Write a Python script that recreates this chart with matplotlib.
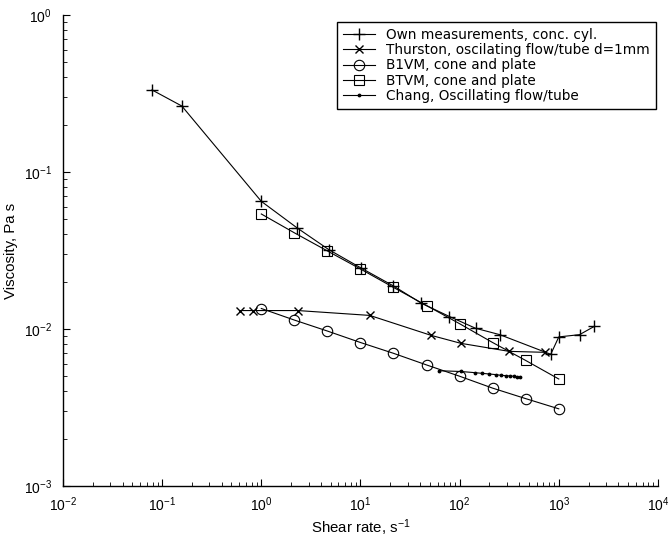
import numpy as np
import matplotlib
matplotlib.use("Agg")
import matplotlib.pyplot as plt
from matplotlib.ticker import LogLocator, NullFormatter

plt.rcParams['font.family'] = ['Liberation Sans', 'DejaVu Sans']
plt.rcParams['mathtext.default'] = 'regular'

# Own measurements, concentric cylinders
own_x = [0.079, 0.158, 1.0, 2.3, 4.8, 10.2, 21.5, 41, 79, 145, 254, 830, 1000, 1620, 2290]
own_y = [0.333, 0.263, 0.065, 0.044, 0.032, 0.0244, 0.0188, 0.0146, 0.012, 0.0101, 0.0092,
         0.0069, 0.0089, 0.0092, 0.0104]

# Thurston, oscillating flow in tube
thu_x = [0.61, 0.82, 2.34, 12.4, 51.7, 103, 316, 725]
thu_y = [0.0131, 0.0131, 0.0131, 0.0122, 0.0091, 0.0081, 0.0072, 0.0071]

# B1VM, cone and plate
b1_x = [1.0, 2.15, 4.64, 10, 21.5, 46.4, 100, 215, 464, 1000]
b1_y = [0.0135, 0.0114, 0.0097, 0.0082, 0.0070, 0.0059, 0.0050, 0.0042, 0.0036, 0.0031]

# BTVM, cone and plate
bt_x = [1.0, 2.15, 4.64, 10, 21.5, 46.4, 100, 215, 464, 1000]
bt_y = [0.054, 0.041, 0.0314, 0.0241, 0.0184, 0.0141, 0.0108, 0.0082, 0.0063, 0.0048]

# Chang, oscillating flow in tube
ch_x = [62, 103, 142, 167, 197, 232, 260, 292, 321, 352, 377, 405]
ch_y = [0.00542, 0.00536, 0.00527, 0.00522, 0.00517, 0.00512, 0.00507, 0.00504,
        0.00502, 0.00500, 0.00497, 0.00492]

fig = plt.figure(figsize=(6.7, 5.38), dpi=100)
ax = fig.add_axes([0.094, 0.0967, 0.888, 0.8755])

lw = 0.8
ax.plot(own_x, own_y, color='k', lw=lw, marker='+', ms=8, mew=1.0,
        label='Own measurements, conc. cyl.')
ax.plot(thu_x, thu_y, color='k', lw=lw, marker='x', ms=5.5, mew=1.0,
        label='Thurston, oscilating flow/tube d=1mm')
ax.plot(b1_x, b1_y, color='k', lw=lw, marker='o', ms=7.5, mfc='none', mew=0.8,
        label='B1VM, cone and plate')
ax.plot(bt_x, bt_y, color='k', lw=lw, marker='s', ms=6.5, mfc='none', mew=0.8,
        label='BTVM, cone and plate')
ax.plot(ch_x, ch_y, color='k', lw=lw, marker='.', ms=3.5,
        label='Chang, Oscillating flow/tube')

ax.set_xscale('log')
ax.set_yscale('log')
ax.set_xlim(1e-2, 1e4)
ax.set_ylim(1e-3, 1e0)
ax.xaxis.set_major_locator(LogLocator(base=10, numticks=10))
ax.xaxis.set_minor_locator(LogLocator(base=10, subs=np.arange(2, 10), numticks=20))
ax.xaxis.set_minor_formatter(NullFormatter())
ax.yaxis.set_minor_locator(LogLocator(base=10, subs=np.arange(2, 10), numticks=20))
ax.yaxis.set_minor_formatter(NullFormatter())

for s in ['top', 'right']:
    ax.spines[s].set_visible(False)
for s in ['left', 'bottom']:
    ax.spines[s].set_linewidth(1.0)
ax.tick_params(which='both', direction='in', labelsize=10)
ax.tick_params(which='major', length=5, width=0.8)
ax.tick_params(which='minor', length=3, width=0.6)
ax.tick_params(axis='y', which='major', pad=8)
ax.tick_params(axis='x', which='major', pad=7)

ax.set_xlabel('Shear rate, s$^{-1}$', fontsize=10.8, labelpad=2)
ax.set_ylabel('Viscosity, Pa s', fontsize=10.8, labelpad=4)

leg = ax.legend(loc='upper right', bbox_to_anchor=(0.996, 0.986),
                prop={'family': 'DejaVu Sans', 'size': 9.8},
                fancybox=False, framealpha=1, edgecolor='k', handlelength=2.3,
                handletextpad=0.8, borderpad=0.45, labelspacing=0.1,
                borderaxespad=0)
leg.get_frame().set_linewidth(1.0)

fig.savefig('out.png', dpi=100)
